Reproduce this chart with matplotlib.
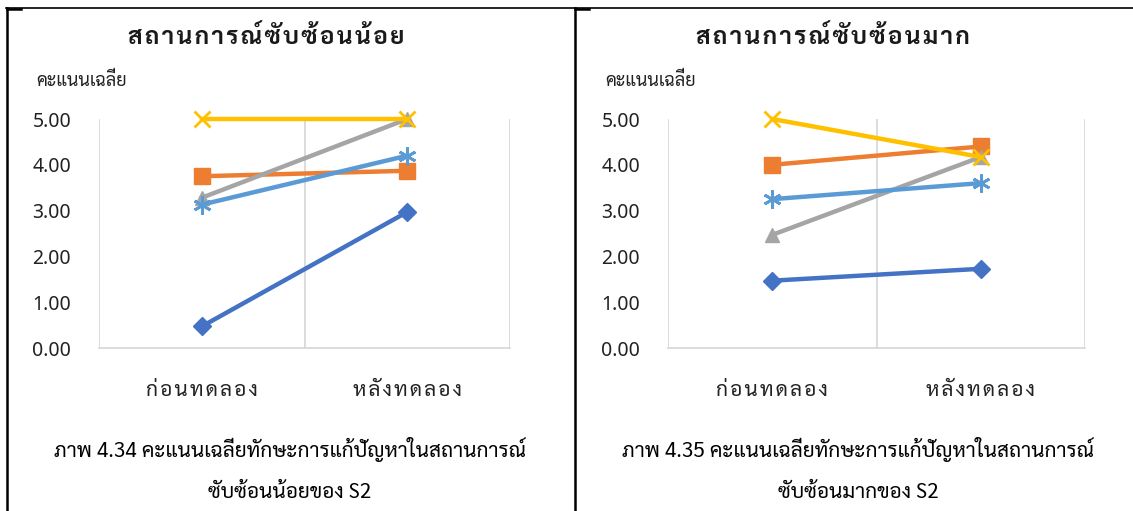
import matplotlib
matplotlib.use("Agg")
import matplotlib.pyplot as plt
from matplotlib import font_manager as fm
from matplotlib.lines import Line2D

# data
categories = ['ก่อนทดลอง', 'หลังทดลอง']
low_s1 = [0.47, 2.97]
low_s2 = [3.75, 3.87]
low_s3 = [3.28, 5.00]
low_s4 = [5.00, 5.00]
low_s5 = [3.13, 4.20]
high_s1 = [1.47, 1.73]
high_s2 = [4.00, 4.40]
high_s3 = [2.47, 4.17]
high_s4 = [5.00, 4.17]
high_s5 = [3.25, 3.60]
titles = ['สถานการณ์ซับซ้อนน้อย', 'สถานการณ์ซับซ้อนมาก']
ylabel = 'คะแนนเฉลี่ย'
captions = [('ภาพ 4.34 คะแนนเฉลี่ยทักษะการแก้ปัญหาในสถานการณ์', 'ซับซ้อนน้อยของ S2'),
            ('ภาพ 4.35 คะแนนเฉลี่ยทักษะการแก้ปัญหาในสถานการณ์', 'ซับซ้อนมากของ S2')]

avail = {f.name for f in fm.fontManager.ttflist}
def pick(cands):
    return [c for c in cands if c in avail] + ['DejaVu Sans']
thai_font = pick(['Sarabun', 'Noto Sans Thai Looped', 'Noto Sans Thai'])
num_font = pick(['Noto Sans'])
plt.rcParams['font.family'] = thai_font

marks = set(chr(c) for c in [0x0E31] + list(range(0x0E34, 0x0E3B)) + list(range(0x0E47, 0x0E4F)))
def spaced(s, gap='\u200a'):
    out = ''
    for ch in s:
        if out and ch not in marks:
            out += gap
        out += ch
    return out

colors = ['#4472C4', '#ED7D31', '#A5A5A5', '#FFC000', '#5B9BD5']
markers = ['D', 's', '^', 'x', (6, 2, 0)]
msizes = [9, 11, 10, 11, 13]

fig = plt.figure(figsize=(11.33, 5.11), dpi=100)
W, H = 1133, 511

panels = [
    ([low_s1, low_s2, low_s3, low_s4, low_s5], (99, 510), 266),
    ([high_s1, high_s2, high_s3, high_s4, high_s5], (668, 1085), 833),
]
x = [1, 2]
for i, (series, (x0, x1), tcx) in enumerate(panels):
    ax = fig.add_axes([x0 / W, (H - 348) / H, (x1 - x0) / W, 229 / H])
    for k, ys in enumerate(series):
        ax.plot(x, ys, color=colors[k], lw=3.2, marker=markers[k], ms=msizes[k],
                mew=2 if k >= 3 else 1, zorder=3 + k, clip_on=False)
    ax.set_xlim(0.5, 2.5)
    ax.set_ylim(0, 5)
    ax.set_yticks([0, 1, 2, 3, 4, 5])
    ax.set_yticklabels(['%.2f' % v for v in [0, 1, 2, 3, 4, 5]], fontsize=14,
                       family=num_font, color='#222222')
    ax.set_xticks(x)
    ax.set_xticklabels([spaced(c) for c in categories], fontsize=15, color='#222222')
    ax.set_xticks([0.5, 1.5, 2.5], minor=True)
    ax.grid(True, which='minor', axis='x', color='#d9d9d9', lw=1.3)
    ax.tick_params(axis='both', which='both', length=0)
    ax.tick_params(axis='y', pad=20)
    ax.tick_params(axis='x', pad=23)
    for s in ['left', 'right', 'top']:
        ax.spines[s].set_visible(False)
    ax.spines['bottom'].set_color('#d9d9d9')
    ax.spines['bottom'].set_linewidth(1.3)
    ax.set_facecolor('none')

    off = 0 if i == 0 else 569
    fig.text(tcx / W, 1 - 38 / H, spaced(titles[i]), ha='center', va='center',
             fontsize=17.5, fontweight='bold', color='#1a1a1a')
    fig.text((36 + off) / W, 1 - 81 / H, ylabel, ha='left', va='center',
             fontsize=13, color='#222222')
    cx = 290 if i == 0 else 858
    fig.text(cx / W, 1 - 450 / H, captions[i][0], ha='center', va='center', fontsize=15)
    fig.text(cx / W, 1 - 492 / H, captions[i][1], ha='center', va='center', fontsize=15)

# document table borders
fig.add_artist(Line2D([6 / W, 1], [1 - 8.5 / H] * 2, color='black', lw=1.2))
for xv in [7, 575]:
    fig.add_artist(Line2D([xv / W] * 2, [0, 1 - 8 / H], color='black', lw=1.8))
    fig.add_artist(Line2D([xv / W, (xv + 14) / W], [1 - 9.5 / H] * 2, color='black', lw=1.8))

fig.savefig('out.png', dpi=100)
